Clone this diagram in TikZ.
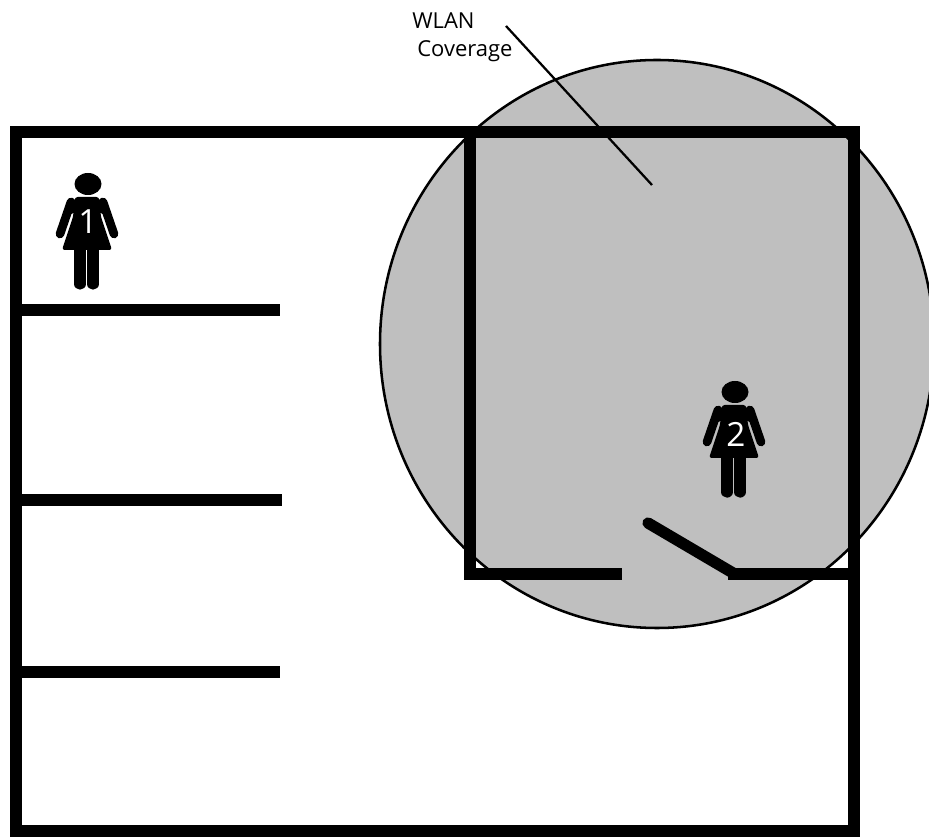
\documentclass[tikz,border=0pt]{standalone}
\usepackage{fontspec}
\setmainfont{Open Sans}
\usepackage{tikz}

\begin{document}
\begin{tikzpicture}[
      x=0.75pt, y=-0.75pt,
      wall/.style={draw=black, line width=9pt},
      door/.style={draw=black, line width=8.5pt, line cap=round},
      coverage/.style={draw=black, line width=1.9pt, fill=black!25},
      leader/.style={draw=black, line width=1.7pt},
      caption/.style={inner sep=0pt, anchor=west, font=\fontsize{16.5}{18}\selectfont},
      personnum/.style={inner sep=0pt, text=white, font=\fontsize{25}{27}\selectfont},
      person/.pic={
        \fill (0,0) ellipse [x radius=13.5, y radius=11];
        \fill[rounded corners=2pt] (-13,13) -- (11,13) -- (13,33) -- (24,66) -- (-26,66) -- (-15,33) -- cycle;
        \fill[rounded corners=3pt] (-13,13) -- (-21,16) -- (-20,30) -- (-13,30) -- cycle;
        \fill[rounded corners=3pt] (11,13) -- (19,16) -- (18,30) -- (11,30) -- cycle;
        \draw[line width=6.5pt, line cap=round] (-17,18) -- (-28,50);
        \draw[line width=6.5pt, line cap=round] (15,18) -- (26,50);
        \draw[line width=8.5pt, line cap=round] (-8,60) -- (-8,100);
        \draw[line width=8.5pt, line cap=round] (5,60) -- (5,100);
      }
    ]
    \useasboundingbox (0,0) rectangle (929,837);
    \begin{scope}
      \clip (0,0) rectangle (929,837);
      \draw[coverage] (657,344) ellipse [x radius=277, y radius=284];
    \end{scope}

    % outer walls
    \draw[wall] (16,132) rectangle (854,831);
    \draw[wall] (16,310) -- (280,310);
    \draw[wall] (16,500) -- (282,500);
    \draw[wall] (16,672) -- (280,672);

    % covered room
    \draw[wall] (470,132) -- (470,580);
    \draw[wall] (464,574) -- (622,574);
    \draw[wall] (728,574) -- (854,574);
    \draw[door] (648,523) -- (733,573);

    \pic at (88,184) {person};
    \pic at (735,392) {person};
    \node[personnum] (num1) at (88,222) {1};
    \node[personnum] (num2) at (736,434) {2};

    \node[caption] (wlan) at (412,21) {WLAN};
    \node[caption] (cover) at (417,51) {Coverage};
    \coordinate (leadstart) at (506,26);
    \coordinate (leadend) at (652,185);
    \draw[leader] (leadstart) -- (leadend);
  \end{tikzpicture}
\end{document}
